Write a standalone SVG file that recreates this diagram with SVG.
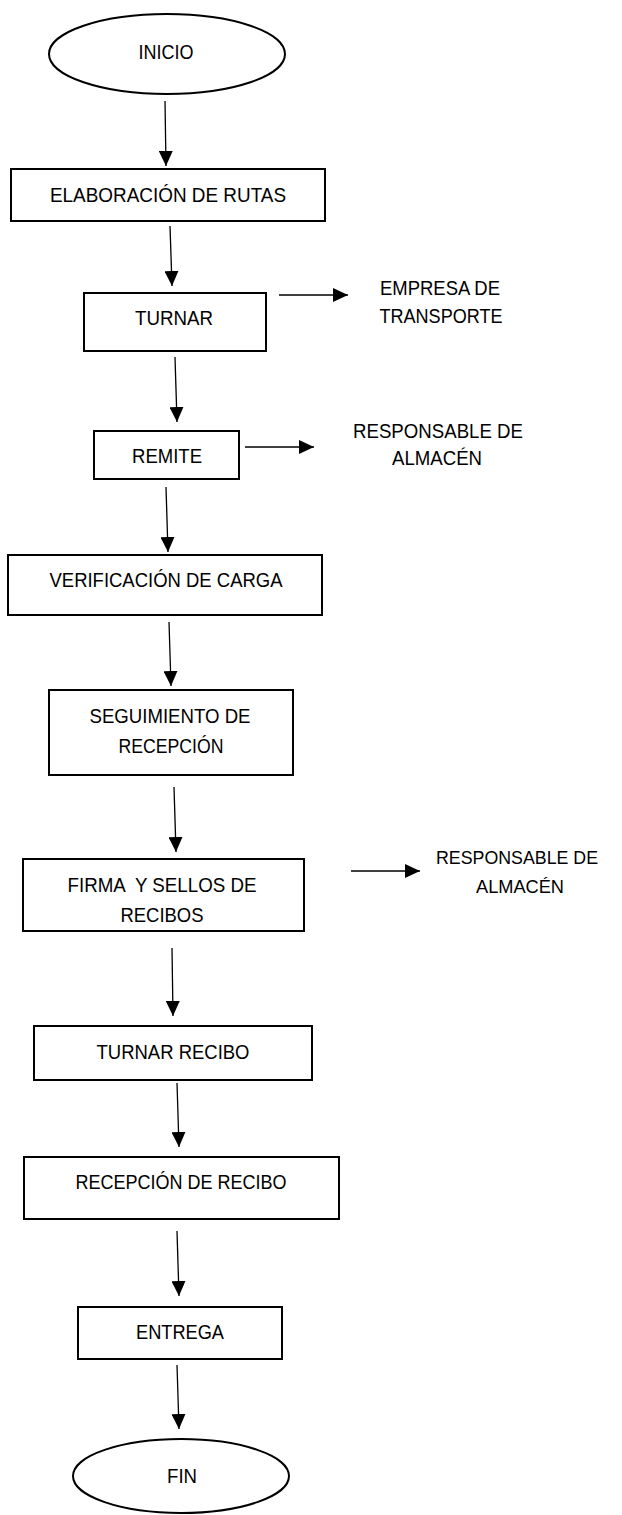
<svg xmlns="http://www.w3.org/2000/svg" width="622" height="1515" viewBox="0 0 622 1515">
<defs>
<marker id="ah" markerUnits="userSpaceOnUse" markerWidth="15" markerHeight="14" refX="15" refY="7" orient="auto">
<path d="M0,0 L15,7 L0,14 z" fill="#000"/>
</marker>
<style>
.box{fill:#fff;stroke:#000;stroke-width:2}
.t{font-family:"Liberation Sans",Arial,sans-serif;font-size:21px;fill:#000;text-anchor:middle}
.s{font-size:19px}
.c{fill:none;stroke:#000;stroke-width:1.3;marker-end:url(#ah)}
</style>
</defs>
<rect width="622" height="1515" fill="#fff"/>
<g id="connectors">
<line class="c" x1="165" y1="101" x2="166" y2="166"/>
<line class="c" x1="170" y1="226" x2="172" y2="286"/>
<line class="c" x1="279" y1="295" x2="348" y2="295"/>
<line class="c" x1="175" y1="357" x2="177" y2="422"/>
<line class="c" x1="245" y1="447" x2="314" y2="447"/>
<line class="c" x1="166" y1="487" x2="168" y2="552"/>
<line class="c" x1="169" y1="622" x2="171" y2="686"/>
<line class="c" x1="174" y1="787" x2="176" y2="852"/>
<line class="c" x1="351" y1="871" x2="420" y2="871"/>
<line class="c" x1="172" y1="948" x2="173" y2="1016"/>
<line class="c" x1="177" y1="1083" x2="179" y2="1147"/>
<line class="c" x1="177" y1="1231" x2="179" y2="1296"/>
<line class="c" x1="177" y1="1365" x2="179" y2="1429"/>
</g>
<g id="inicio">
<ellipse class="box" cx="167" cy="54" rx="118" ry="40"/>
<text class="t" x="166" y="59" textLength="55" lengthAdjust="spacingAndGlyphs">INICIO</text>
</g>
<g id="elaboracion">
<rect class="box" x="11" y="169" width="314" height="52"/>
<text class="t" x="168" y="202" textLength="236" lengthAdjust="spacingAndGlyphs">ELABORACIÓN DE RUTAS</text>
</g>
<g id="turnar">
<rect class="box" x="84" y="293" width="182" height="58"/>
<text class="t" x="174" y="325" textLength="78" lengthAdjust="spacingAndGlyphs">TURNAR</text>
</g>
<g id="empresa">
<text class="t" x="440" y="295" textLength="120" lengthAdjust="spacingAndGlyphs">EMPRESA DE</text>
<text class="t" x="441" y="323" textLength="123" lengthAdjust="spacingAndGlyphs">TRANSPORTE</text>
</g>
<g id="remite">
<rect class="box" x="94" y="431" width="145" height="48"/>
<text class="t" x="167" y="463" textLength="70" lengthAdjust="spacingAndGlyphs">REMITE</text>
</g>
<g id="responsable1">
<text class="t" x="438" y="438" textLength="170" lengthAdjust="spacingAndGlyphs">RESPONSABLE DE</text>
<text class="t" x="437" y="465" textLength="90" lengthAdjust="spacingAndGlyphs">ALMACÉN</text>
</g>
<g id="verificacion">
<rect class="box" x="8" y="555" width="314" height="60"/>
<text class="t" x="166" y="587" textLength="233" lengthAdjust="spacingAndGlyphs">VERIFICACIÓN DE CARGA</text>
</g>
<g id="seguimiento">
<rect class="box" x="49" y="690" width="244" height="85"/>
<text class="t" x="170" y="723" textLength="161" lengthAdjust="spacingAndGlyphs">SEGUIMIENTO DE</text>
<text class="t" x="171" y="753" textLength="105" lengthAdjust="spacingAndGlyphs">RECEPCIÓN</text>
</g>
<g id="firma">
<rect class="box" x="23" y="859" width="281" height="72"/>
<text class="t" x="162" y="892" textLength="189" lengthAdjust="spacingAndGlyphs" style="white-space:pre">FIRMA  Y SELLOS DE</text>
<text class="t" x="162" y="922" textLength="83" lengthAdjust="spacingAndGlyphs">RECIBOS</text>
</g>
<g id="responsable2">
<text class="t s" x="517" y="864" textLength="162" lengthAdjust="spacingAndGlyphs">RESPONSABLE DE</text>
<text class="t s" x="520" y="893" textLength="88" lengthAdjust="spacingAndGlyphs">ALMACÉN</text>
</g>
<g id="turnar-recibo">
<rect class="box" x="34" y="1026" width="278" height="54"/>
<text class="t" x="173" y="1059" textLength="153" lengthAdjust="spacingAndGlyphs">TURNAR RECIBO</text>
</g>
<g id="recepcion-recibo">
<rect class="box" x="24" y="1157" width="315" height="62"/>
<text class="t" x="181" y="1189" textLength="211" lengthAdjust="spacingAndGlyphs">RECEPCIÓN DE RECIBO</text>
</g>
<g id="entrega">
<rect class="box" x="78" y="1307" width="204" height="52"/>
<text class="t" x="180" y="1339" textLength="88" lengthAdjust="spacingAndGlyphs">ENTREGA</text>
</g>
<g id="fin">
<ellipse class="box" cx="181" cy="1476" rx="108" ry="37"/>
<text class="t" x="182" y="1483" textLength="30" lengthAdjust="spacingAndGlyphs">FIN</text>
</g>
</svg>
